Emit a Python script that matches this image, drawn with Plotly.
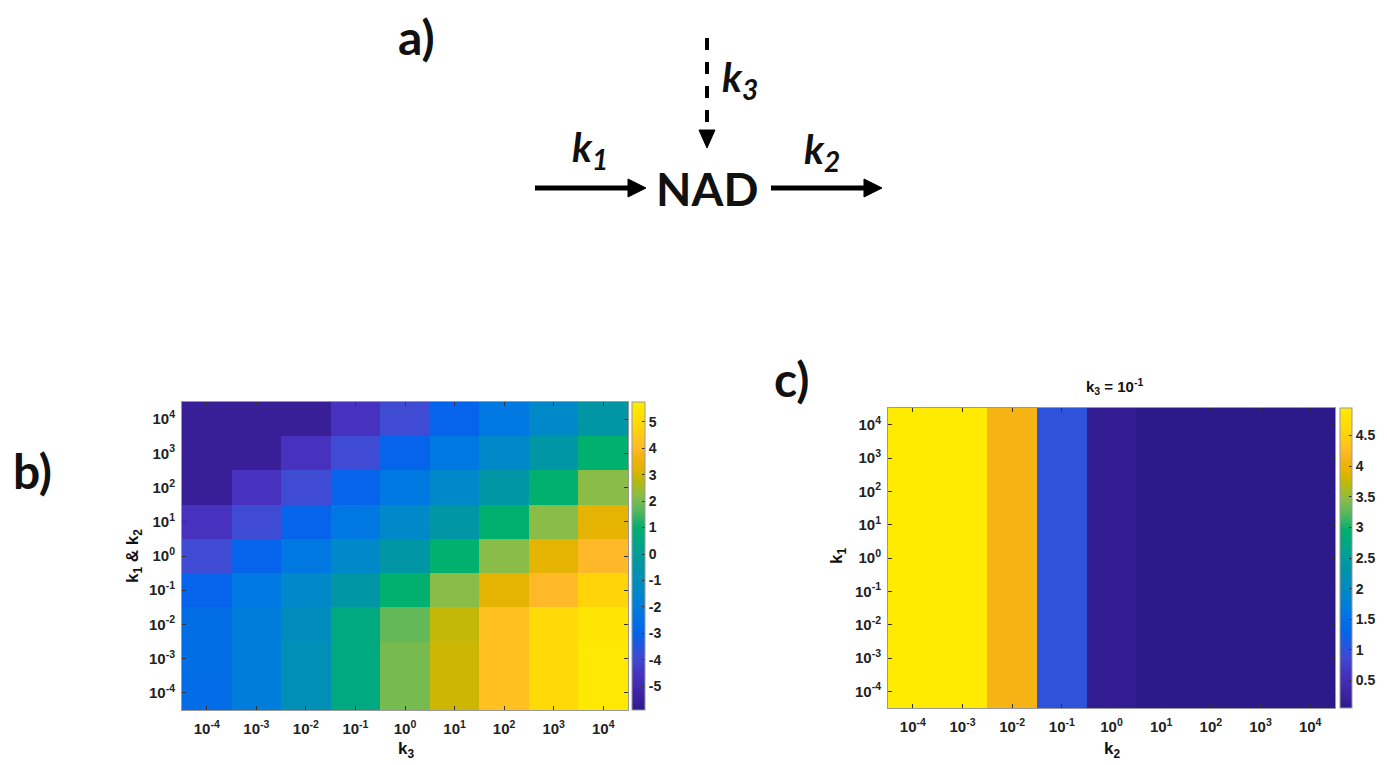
import plotly.graph_objects as go

# ---------------- data ----------------
exponents = [-4, -3, -2, -1, 0, 1, 2, 3, 4]
tick_text = ["10<sup>%d</sup>" % e for e in exponents]

# panel b: rows from k1&k2 = 10^4 (top) down to 10^-4 (bottom); columns k3 = 10^-4 .. 10^4
b_rows_exp = [4, 3, 2, 1, 0, -1, -2, -3, -4]
b_values = [
    [-5.6, -5.6, -5.6, -4.6, -3.9, -3.0, -2.2, -1.4, -0.4],
    [-5.6, -5.6, -4.6, -3.9, -3.0, -2.2, -1.4, -0.4, 1.0],
    [-5.6, -4.6, -3.9, -3.0, -2.2, -1.4, -0.4, 1.0, 2.2],
    [-4.6, -3.9, -3.0, -2.2, -1.4, -0.4, 1.0, 2.2, 3.3],
    [-3.9, -3.0, -2.2, -1.4, -0.4, 1.0, 2.2, 3.3, 4.0],
    [-3.0, -2.2, -1.4, -0.4, 1.0, 2.2, 3.3, 4.0, 4.8],
    [-2.6, -2.0, -1.1, 0.6, 1.8, 2.9, 4.2, 5.0, 5.5],
    [-2.6, -2.0, -0.9, 0.6, 2.0, 3.0, 4.2, 5.0, 5.6],
    [-2.7, -2.0, -0.9, 0.6, 2.0, 3.0, 4.2, 5.0, 5.6],
]
b_zmin, b_zmax = -5.9, 5.75
b_cbar_ticks = [-5, -4, -3, -2, -1, 0, 1, 2, 3, 4, 5]
b_cbar_text = ["%d" % t for t in b_cbar_ticks]

# panel c: k3 = 10^-1, value depends on k2 (columns) only
c_rows_exp = [4, 3, 2, 1, 0, -1, -2, -3, -4]
c_col_values = [4.95, 4.93, 4.1, 1.0, 0.12, 0.05, 0.05, 0.05, 0.05]
c_zmin, c_zmax = 0.05, 4.95
c_cbar_ticks = [0.5, 1, 1.5, 2, 2.5, 3, 3.5, 4, 4.5]
c_cbar_text = ["0.5", "1", "1.5", "2", "2.5", "3", "3.5", "4", "4.5"]

# ---------------- style ----------------
W, H = 1387, 765
def px(x):
    return x / W
def py(y):
    return 1 - y / H

# parula-like colour scale (value anchors on panel b's range, normalised)
anchors = [(-5.9, '#2d1a8a'), (-5.6, '#381f98'), (-4.6, '#4632be'), (-3.9, '#3e4bd2'),
           (-3.0, '#0564eb'), (-2.2, '#0078e1'), (-1.4, '#0089c8'), (-0.4, '#0096a5'),
           (0.3, '#00a48c'), (1.0, '#00b06e'), (1.6, '#50b75f'), (2.2, '#8abd48'),
           (2.8, '#b9b90a'), (3.2, '#e1b400'), (3.6, '#f0b20a'), (4.0, '#ffb928'),
           (4.8, '#ffd50a'), (5.75, '#ffeb00')]
cscale = [[(v - b_zmin) / (b_zmax - b_zmin), c] for v, c in anchors]

FONT = "Liberation Sans"
tickfont = dict(family=FONT, size=15, color="#222", weight="bold")
cbarfont = dict(family=FONT, size=14, color="#222", weight="bold")

b_z = b_values
c_z = [list(c_col_values) for _ in c_rows_exp]

fig = go.Figure()
fig.add_trace(go.Heatmap(
    x=exponents, y=b_rows_exp, z=b_z, zmin=b_zmin, zmax=b_zmax,
    colorscale=cscale, xaxis="x", yaxis="y", hoverinfo="z",
    colorbar=dict(x=px(632), xanchor="left", y=py(710), yanchor="bottom",
                  len=(710 - 402) / H, lenmode="fraction", thickness=13, xpad=0, ypad=0,
                  outlinewidth=1, outlinecolor="#999", ticks="inside", ticklen=3,
                  tickcolor="#333", tickvals=b_cbar_ticks, ticktext=b_cbar_text,
                  tickfont=cbarfont)))
fig.add_trace(go.Heatmap(
    x=exponents, y=c_rows_exp, z=c_z, zmin=c_zmin, zmax=c_zmax,
    colorscale=cscale, xaxis="x2", yaxis="y2", hoverinfo="z",
    colorbar=dict(x=px(1340), xanchor="left", y=py(708), yanchor="bottom",
                  len=(708 - 408) / H, lenmode="fraction", thickness=12, xpad=0, ypad=0,
                  outlinewidth=1, outlinecolor="#999", ticks="inside", ticklen=3,
                  tickcolor="#333", tickvals=c_cbar_ticks, ticktext=c_cbar_text,
                  tickfont=cbarfont)))

axis_common = dict(range=[-4.5, 4.5], tickvals=exponents, ticktext=tick_text,
                   ticks="inside", ticklen=4, tickcolor="#333", showline=True,
                   linecolor="#9a9a9a", linewidth=1, mirror="ticks",
                   showgrid=False, zeroline=False, tickfont=tickfont, fixedrange=True)

fig.update_layout(
    width=W, height=H, margin=dict(l=0, r=0, t=0, b=0),
    paper_bgcolor="white", plot_bgcolor="white", showlegend=False,
    xaxis=dict(domain=[px(182), px(628)], anchor="y", ticklabelstandoff=5, **axis_common),
    yaxis=dict(domain=[py(710), py(402)], anchor="x", ticklabelstandoff=3, **axis_common),
    xaxis2=dict(domain=[px(888), px(1335)], anchor="y2", ticklabelstandoff=5, **axis_common),
    yaxis2=dict(domain=[py(708), py(408)], anchor="x2", ticklabelstandoff=3, **axis_common),
)

def txt(x, y, text, size, family=FONT, angle=0, color="#111"):
    fig.add_annotation(x=px(x), y=py(y), xref="paper", yref="paper", text=text,
                       showarrow=False, textangle=angle, xanchor="center", yanchor="middle",
                       font=dict(family=family, size=size, color=color, weight="bold"))

# axis titles
txt(406, 750, "k<sub>3</sub>", 17)
txt(134, 556, "k<sub>1</sub> &amp; k<sub>2</sub>", 17, angle=-90)
txt(1112, 750, "k<sub>2</sub>", 17)
txt(838, 556, "k<sub>1</sub>", 17, angle=-90)
txt(1114, 386, "k<sub>3</sub> = 10<sup>-1</sup>", 15)

# panel labels
LBL = "Lato"
txt(416, 36, "a)", 48, family=LBL)
txt(32, 470, "b)", 48, family=LBL)
txt(792, 378, "c)", 48, family=LBL)

# diagram
txt(707, 188, "NAD", 46, family=LBL)
txt(590, 150, "<i>k<sub>1</sub></i>", 40, family=LBL)
txt(822, 152, "<i>k<sub>2</sub></i>", 40, family=LBL)
txt(740, 80, "<i>k<sub>3</sub></i>", 40, family=LBL)

def line(x0, y0, x1, y1, width, dash="solid"):
    fig.add_shape(type="line", xref="paper", yref="paper", x0=px(x0), y0=py(y0),
                  x1=px(x1), y1=py(y1), line=dict(color="black", width=width, dash=dash))

def tri(pts):
    path = "M " + " L ".join("%f,%f" % (px(a), py(b)) for a, b in pts) + " Z"
    fig.add_shape(type="path", xref="paper", yref="paper", path=path,
                  fillcolor="black", line=dict(color="black", width=1))

line(535, 188, 632, 188, 5)
tri([(628, 179), (646, 188), (628, 197)])
line(771, 188, 868, 188, 5)
tri([(864, 179), (882, 188), (864, 197)])
line(707, 38, 707, 132, 4, dash="dash")
tri([(699, 130), (707, 148), (715, 130)])

fig.write_html("out.html", config={"displayModeBar": False},
               post_script="document.body.style.margin='0px';")
